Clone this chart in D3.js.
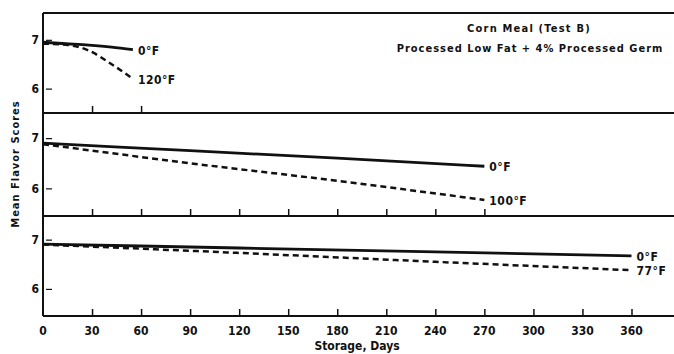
<!DOCTYPE html>
<html>
<head>
<meta charset="utf-8">
<script src="https://cdn.jsdelivr.net/npm/d3@7"></script>
<style>
  body { margin: 0; background: #fff; }
  svg text { font-family: "Liberation Sans Narrow", "DejaVu Sans Condensed", "Roboto Condensed", sans-serif; font-weight: bold; fill: #111; }
</style>
</head>
<body>
<div id="chart"></div>
<script>
// storage days shown on the x axis
var xTickValues = [0, 30, 60, 90, 120, 150, 180, 210, 240, 270, 300, 330, 360];
var yTickValues = [6, 7];

// panel 1 : 0°F and 120°F
var p1Days = [0, 14, 28, 42, 55];
var p1Score0F = [6.95, 6.92, 6.89, 6.85, 6.80];
var p1Score120F = [6.92, 6.90, 6.78, 6.50, 6.20];
var p1Labels = ["0°F", "120°F"];

// panel 2 : 0°F and 100°F
var p2Days = [0, 90, 180, 270];
var p2Score0F = [6.90, 6.75, 6.60, 6.44];
var p2Score100F = [6.88, 6.50, 6.15, 5.77];
var p2Labels = ["0°F", "100°F"];

// panel 3 : 0°F and 77°F
var p3Days = [0, 120, 240, 360];
var p3Score0F = [6.91, 6.83, 6.75, 6.67];
var p3Score77F = [6.90, 6.73, 6.55, 6.38];
var p3Labels = ["0°F", "77°F"];

var width = 674, height = 354;
var left = 43, right = 674;

var svg = d3.select("#chart")
    .append("svg")
    .attr("width", width)
    .attr("height", height);

var x = d3.scaleLinear()
    .domain([0, 386])
    .range([left, right]);

var panels = [
    {top: 13, bottom: 113, domain: [5.5, 7.55], maxTick: 60,
     days: p1Days, solid: p1Score0F, dashed: p1Score120F, labels: p1Labels},
    {top: 113, bottom: 216, domain: [5.45, 7.5], maxTick: 270,
     days: p2Days, solid: p2Score0F, dashed: p2Score100F, labels: p2Labels},
    {top: 215, bottom: 316, domain: [5.45, 7.5], maxTick: 360,
     days: p3Days, solid: p3Score0F, dashed: p3Score77F, labels: p3Labels}
];

panels.forEach(function (p, i) {
    var y = d3.scaleLinear()
        .domain(p.domain)
        .range([p.bottom, p.top]);

    var g = svg.append("g");

    // frame line at the panel bottom
    g.append("line")
        .attr("x1", left).attr("x2", right)
        .attr("y1", p.bottom).attr("y2", p.bottom)
        .attr("stroke", "#111")
        .attr("stroke-width", 2);

    // inward x ticks
    var ticks = xTickValues.filter(function (d) { return d > 0 && d <= p.maxTick; });
    var xAxis = g.append("g")
        .attr("transform", "translate(0," + p.bottom + ")")
        .call(d3.axisTop(x).tickValues(ticks).tickSize(7).tickFormat(""));
    xAxis.select(".domain").remove();
    xAxis.selectAll("line").attr("stroke", "#111").attr("stroke-width", 1.5);

    // y ticks pointing into the panel
    var yAxis = g.append("g")
        .attr("transform", "translate(" + left + ",0)")
        .call(d3.axisRight(y).tickValues(yTickValues).tickSize(6).tickFormat(""));
    yAxis.select(".domain").remove();
    yAxis.selectAll("line").attr("stroke", "#111").attr("stroke-width", 1.2).attr("x1", 3).attr("x2", 9);
    g.selectAll(".ylab")
        .data(yTickValues)
        .enter()
        .append("text")
        .attr("class", "ylab")
        .attr("x", left - 4)
        .attr("y", function (d) { return y(d); })
        .attr("dy", "0.35em")
        .attr("text-anchor", "end")
        .style("font-size", "12px")
        .text(function (d) { return d; });

    var line = d3.line()
        .x(function (d) { return x(d[0]); })
        .y(function (d) { return y(d[1]); });

    var solidPts = p.days.map(function (d, k) { return [d, p.solid[k]]; });
    var dashedPts = p.days.map(function (d, k) { return [d, p.dashed[k]]; });

    g.append("path")
        .datum(dashedPts)
        .attr("d", line.curve(d3.curveMonotoneX))
        .attr("fill", "none")
        .attr("stroke", "#111")
        .attr("stroke-width", 2.5)
        .attr("stroke-dasharray", "6,4");

    g.append("path")
        .datum(solidPts)
        .attr("d", line.curve(d3.curveMonotoneX))
        .attr("fill", "none")
        .attr("stroke", "#111")
        .attr("stroke-width", 2.8);

    var ends = [solidPts[solidPts.length - 1], dashedPts[dashedPts.length - 1]];
    g.selectAll(".tlab")
        .data(ends)
        .enter()
        .append("text")
        .attr("class", "tlab")
        .attr("x", function (d) { return x(d[0]) + 5; })
        .attr("y", function (d) { return y(d[1]) + 1; })
        .attr("dy", "0.35em")
        .style("font-size", "12px")
        .style("letter-spacing", "0.5px")
        .text(function (d, k) { return p.labels[k]; });
});

// top frame and left axis
svg.append("line")
    .attr("x1", left).attr("x2", right)
    .attr("y1", 13).attr("y2", 13)
    .attr("stroke", "#111").attr("stroke-width", 2);
svg.append("line")
    .attr("x1", left).attr("x2", left)
    .attr("y1", 13).attr("y2", 316)
    .attr("stroke", "#111").attr("stroke-width", 2);

// x tick labels under the bottom panel
svg.selectAll(".xlab")
    .data(xTickValues)
    .enter()
    .append("text")
    .attr("class", "xlab")
    .attr("x", function (d) { return x(d); })
    .attr("y", 335)
    .attr("text-anchor", "middle")
    .style("font-size", "12px")
    .text(function (d) { return d; });

svg.append("text")
    .attr("x", 357)
    .attr("y", 350)
    .attr("text-anchor", "middle")
    .style("font-size", "12px")
    .text("Storage, Days");

svg.append("text")
    .attr("transform", "translate(19,164) rotate(-90)")
    .attr("text-anchor", "middle")
    .style("font-size", "11px")
    .style("letter-spacing", "1px")
    .text("Mean Flavor Scores");

// title
svg.append("text")
    .attr("x", 529)
    .attr("y", 32)
    .attr("text-anchor", "middle")
    .style("font-size", "11px")
    .style("letter-spacing", "1.2px")
    .text("Corn Meal (Test B)");
svg.append("text")
    .attr("x", 530)
    .attr("y", 52)
    .attr("text-anchor", "middle")
    .style("font-size", "11px")
    .style("letter-spacing", "1px")
    .text("Processed Low Fat + 4% Processed Germ");
</script>
</body>
</html>
